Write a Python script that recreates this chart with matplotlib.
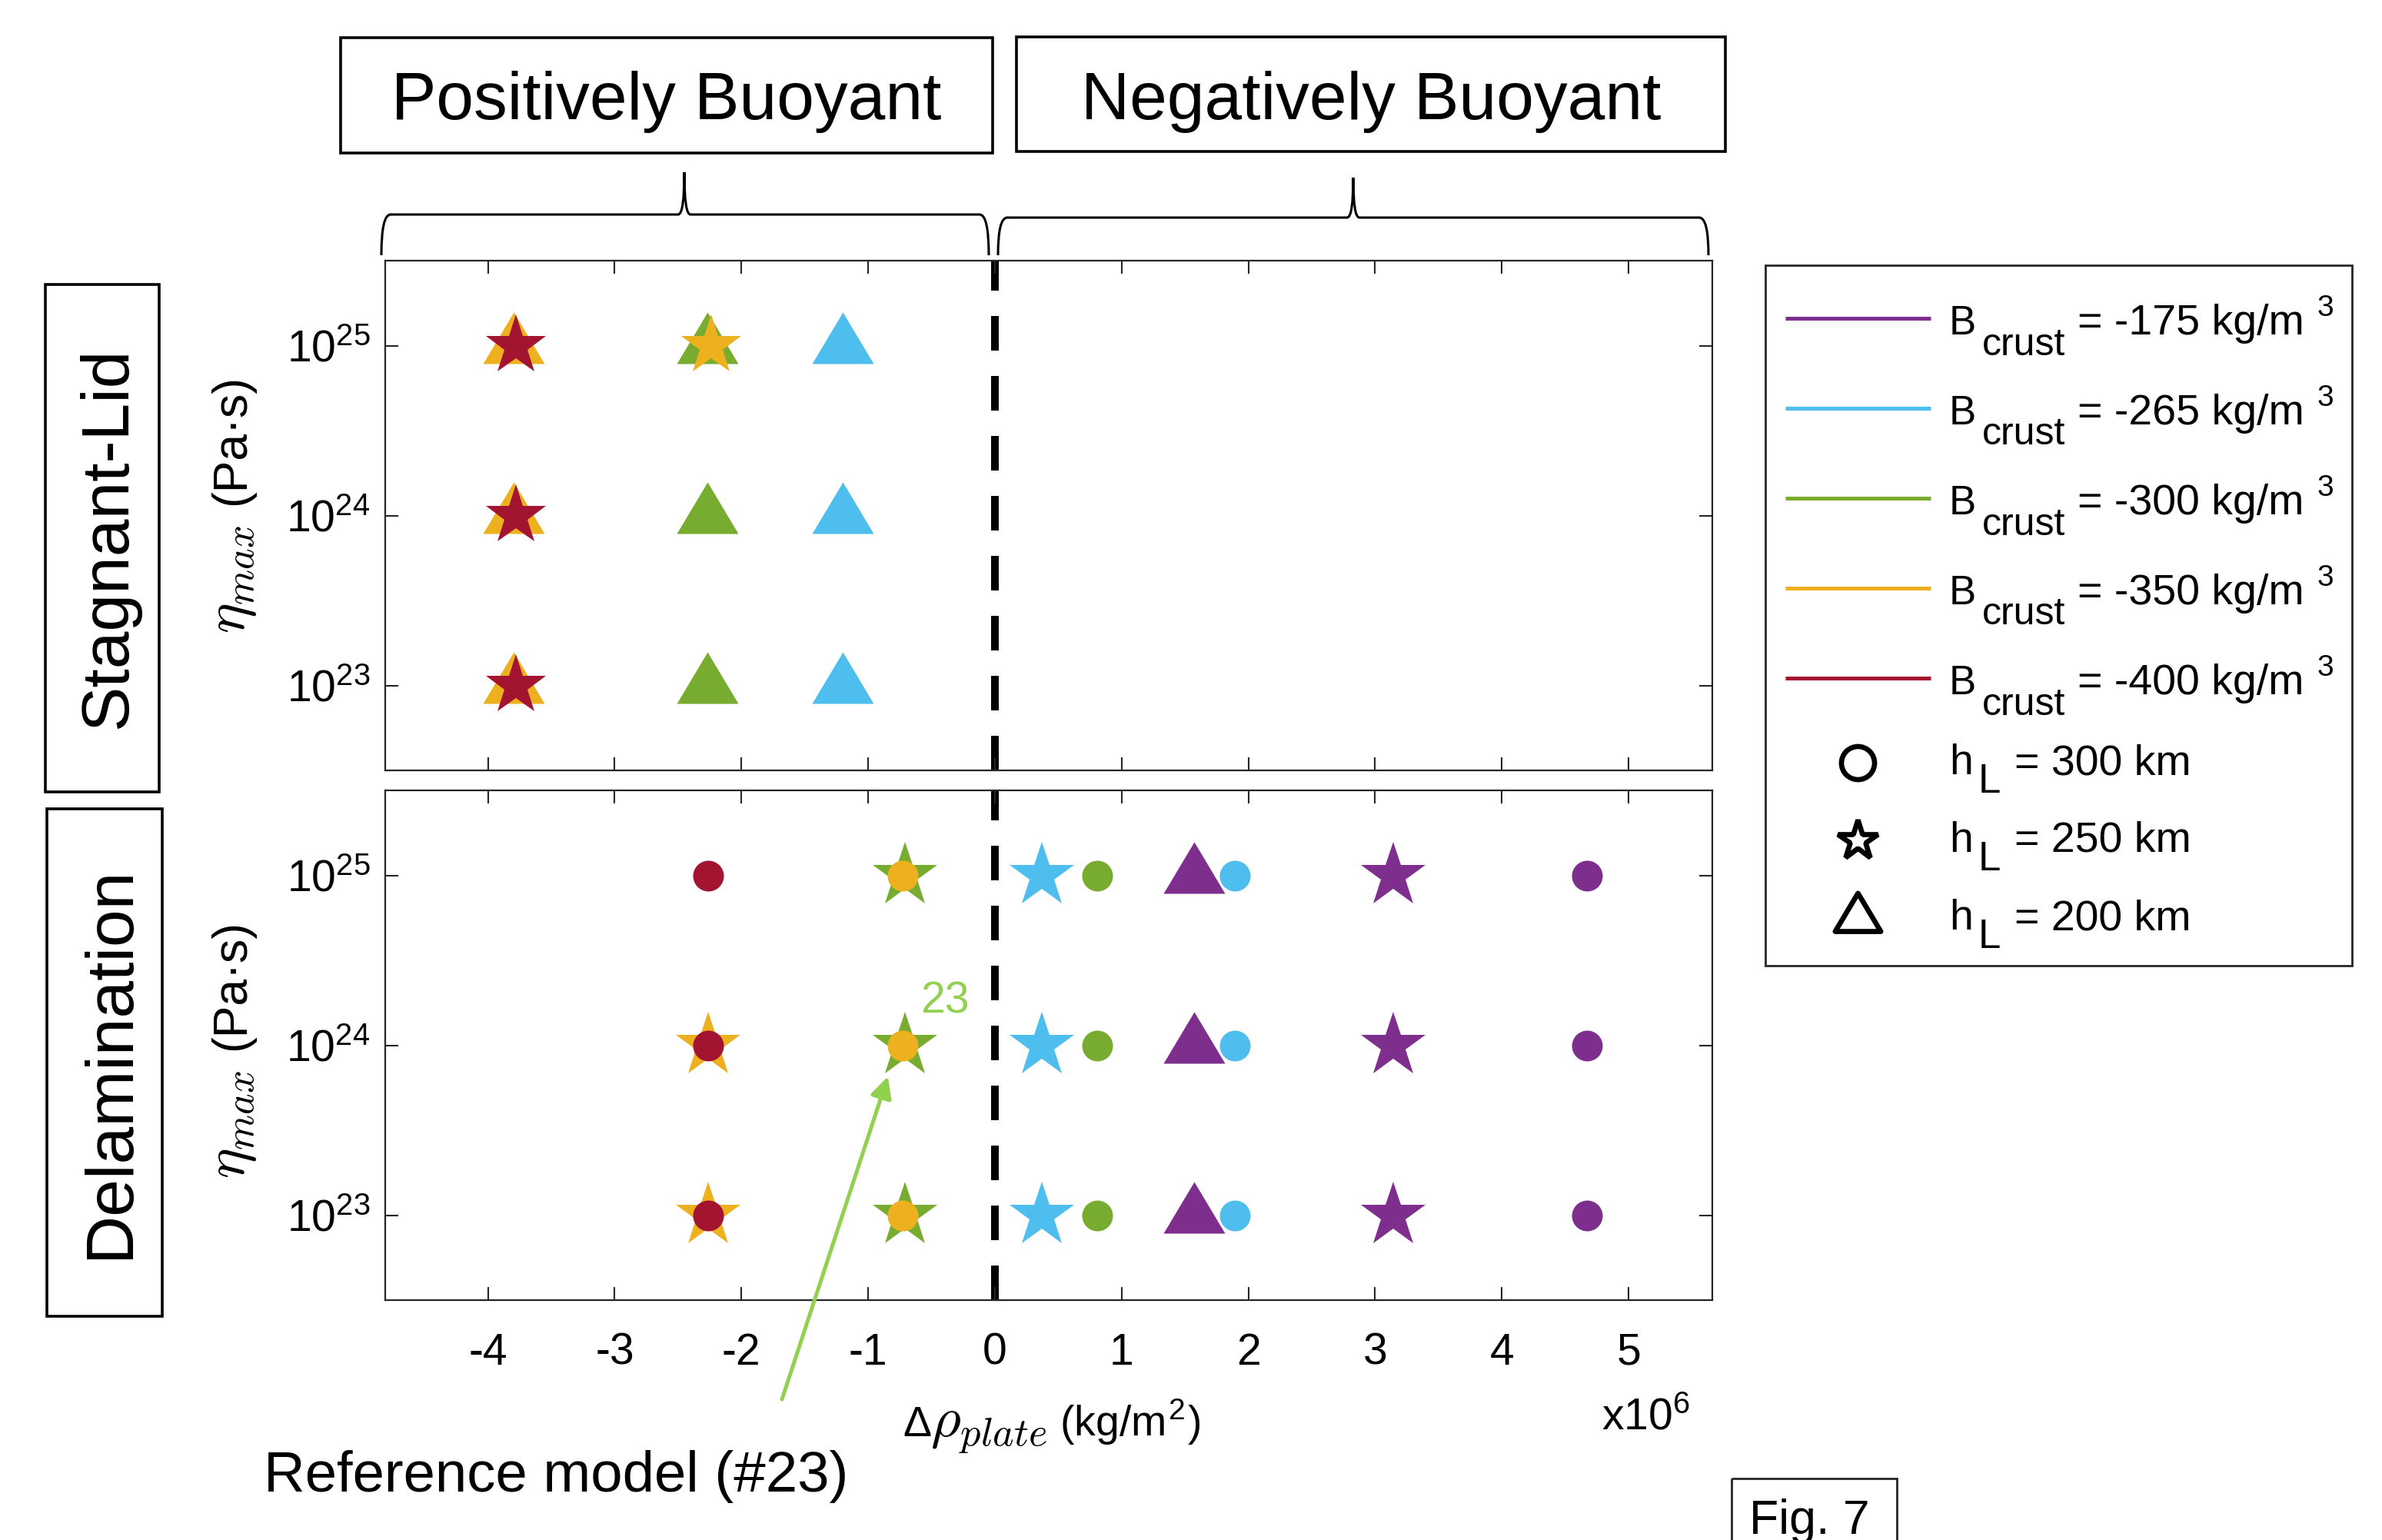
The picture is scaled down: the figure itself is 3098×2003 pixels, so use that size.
import matplotlib
matplotlib.use('Agg')
import matplotlib.pyplot as plt
from matplotlib.path import Path
from matplotlib.patches import Rectangle, PathPatch
from matplotlib.transforms import offset_copy

plt.rcParams['font.family'] = ['Liberation Sans', 'DejaVu Sans']
plt.rcParams['mathtext.fontset'] = 'cm'
plt.rcParams['axes.unicode_minus'] = False

# crustal buoyancy classes (kg/m3) and their colours
b_crust = [-175, -265, -300, -350, -400]
b_colors = ['#7E2F8E', '#4DBEEE', '#77AC30', '#EDB120', '#A2142F']

# lithosphere thickness classes (km)
h_l = [300, 250, 200]

# stagnant-lid runs: B_crust, h_L, plate density anomaly (x1e6 kg/m2), log10(eta_max)
sl_bcrust = [-350, -400, -300, -350, -265]
sl_hl = [200, 250, 200, 250, 200]
sl_drho = [-3.80, -3.78, -2.27, -2.24, -1.20]
sl_logeta = [[23, 24, 25], [23, 24, 25], [23, 24, 25], [25], [23, 24, 25]]

# delamination runs
dl_bcrust = [-350, -400, -300, -350, -265, -300, -175, -265, -175, -175]
dl_hl = [250, 300, 250, 300, 250, 300, 200, 300, 250, 300]
dl_drho = [-2.26, -2.26, -0.71, -0.73, 0.37, 0.81, 1.57, 1.89, 3.14, 4.67]
dl_logeta = [[23, 24], [23, 24, 25], [23, 24, 25], [23, 24, 25], [23, 24, 25],
             [23, 24, 25], [23, 24, 25], [23, 24, 25], [23, 24, 25], [23, 24, 25]]

# reference model #23
ref_drho = -0.71
ref_logeta = 24

xticks = [-4, -3, -2, -1, 0, 1, 2, 3, 4, 5]
xticklabels = ['-4', '-3', '-2', '-1', '0', '1', '2', '3', '4', '5']
yticks = [1e23, 1e24, 1e25]

W, H = 3098, 2003
DPI = 200
fig = plt.figure(figsize=(W / DPI, H / DPI), dpi=DPI)

# triangle centred on its centroid
tri = Path([(0, 1.1), (-1, -0.575), (1, -0.575), (0, 1.1)], closed=True)
shapes = {300: 'o', 250: '*', 200: tri}
color_of = dict(zip(b_crust, b_colors))
spine_c = '#262626'


def setup(ax, bottom_labels):
    ax.set_yscale('log')
    ax.set_xlim(-4.81, 5.66)
    ax.set_ylim(10 ** 22.5, 10 ** 25.5)
    ax.set_xticks(xticks)
    ax.set_xticklabels(xticklabels)
    ax.set_yticks(yticks)
    ax.minorticks_off()
    ax.tick_params(direction='in', length=6, width=0.75, top=True, right=True,
                   labelsize=20.5, color=spine_c, labelbottom=bottom_labels)
    ax.tick_params(axis='x', pad=15)
    ax.tick_params(axis='y', pad=7)
    for s in ax.spines.values():
        s.set_linewidth(0.8)
        s.set_color(spine_c)
    ax.axvline(0, color='k', lw=3.6, ls=(0, (4.5, 3.3)), zorder=1)


def draw_runs(ax, bc, hl, drho, logeta, sizes):
    for b, h, x, etas in zip(bc, hl, drho, logeta):
        ax.plot([x] * len(etas), [10.0 ** e for e in etas], ls='none',
                marker=shapes[h], ms=sizes[h], color=color_of[b], mew=0, zorder=3)


ax1 = fig.add_axes([501 / W, 1 - 1002 / H, 1726 / W, 663 / H])
ax2 = fig.add_axes([501 / W, 1 - 1691 / H, 1726 / W, 663 / H])
setup(ax1, False)
setup(ax2, True)
draw_runs(ax1, sl_bcrust, sl_hl, sl_drho, sl_logeta, {300: 14.4, 250: 29.5, 200: 31.7})
draw_runs(ax2, dl_bcrust, dl_hl, dl_drho, dl_logeta, {300: 14.4, 250: 32.0, 200: 31.7})

# overlay in figure pixels for annotations
ov = fig.add_axes([0, 0, 1, 1], zorder=5)
ov.set_xlim(0, W)
ov.set_ylim(H, 0)
ov.axis('off')

# reference model pointer
green = '#92D050'
ax2.annotate('23', xy=(ref_drho, 10.0 ** ref_logeta), xytext=(20, 41.5),
             textcoords='offset pixels', ha='left', va='baseline',
             fontsize=20.5, color=green)
tip = offset_copy(ax2.transData, fig=fig, x=-22 / DPI, y=-40.5 / DPI, units='inches')
ax2.annotate('', xy=(ref_drho, 10.0 ** ref_logeta), xycoords=tip,
             xytext=(1017, 1820), textcoords=ov.transData, annotation_clip=False,
             arrowprops=dict(arrowstyle='-|>', color=green, lw=1.8,
                             mutation_scale=21, shrinkA=0, shrinkB=0))
ov.text(343, 1940, 'Reference model (#23)', fontsize=26.8, ha='left', va='baseline')

# x axis title
ov.text(1174, 1868, 'Δ', fontsize=20, ha='left', va='baseline')
ov.text(1210, 1868, r'$\rho_{plate}$', fontsize=27, ha='left', va='baseline')
ov.text(1378, 1868, r'(kg/m$^{\mathdefault{2}}$)', fontsize=20, ha='left', va='baseline')
ov.text(2083, 1860, r'x$\mathdefault{10^{6}}$', fontsize=20.5, ha='left', va='baseline')

# y axis titles, read bottom to top
for ystart in (824, 1533):
    ov.text(318, ystart, r'$\eta_{max}$', fontsize=27, rotation=90,
            rotation_mode='anchor', ha='left', va='baseline')
    ov.text(318, ystart - 167, '(Pa·s)', fontsize=22.5, rotation=90,
            rotation_mode='anchor', ha='left', va='baseline')

# regime boxes
box_kw = dict(fill=False, lw=1.3, edgecolor='k')
ov.add_patch(Rectangle((443, 49), 848, 150, **box_kw))
ov.add_patch(Rectangle((1322, 48), 922, 149, **box_kw))
ov.text(867, 155, 'Positively Buoyant', fontsize=31.5, ha='center', va='baseline')
ov.text(1783, 155, 'Negatively Buoyant', fontsize=31.5, ha='center', va='baseline')
ov.add_patch(Rectangle((59, 370), 148, 660, **box_kw))
ov.add_patch(Rectangle((61, 1052), 150, 660, **box_kw))
ov.text(164, 700, 'Stagnant-Lid', fontsize=31.5, rotation=90, rotation_mode='anchor',
        ha='center', va='baseline')
ov.text(167, 1381, 'Delamination', fontsize=31.5, rotation=90, rotation_mode='anchor',
        ha='center', va='baseline')


def brace(x0, x1, xt, yh, yt, yb):
    verts = [(x0, yb), (x0, yh), (x0 + 12, yh), (xt - 8, yh), (xt, yh), (xt, yt),
             (xt, yh), (xt + 8, yh), (x1 - 12, yh), (x1, yh), (x1, yb)]
    codes = [Path.MOVETO, Path.CURVE3, Path.CURVE3, Path.LINETO, Path.CURVE3, Path.CURVE3,
             Path.CURVE3, Path.CURVE3, Path.LINETO, Path.CURVE3, Path.CURVE3]
    ov.add_patch(PathPatch(Path(verts, codes), fill=False, lw=1.1, edgecolor='k'))


brace(496, 1286, 890, 279, 224, 332)
brace(1298, 2222, 1760, 283, 231, 332)

# legend
ov.add_patch(Rectangle((2296, 345), 763, 911, fill=False, lw=1.0, edgecolor=spine_c))
for i, (b, c) in enumerate(zip(b_crust, b_colors)):
    y = 414 + 117 * i
    ov.plot([2322, 2511], [y, y], color=c, lw=1.8, solid_capstyle='butt')
    ov.text(2535, y + 21, 'B', fontsize=19, va='baseline')
    ov.text(2578, y + 47.5, 'crust', fontsize=18, va='baseline')
    ov.text(2702, y + 21, '= %d kg/m' % b, fontsize=20, va='baseline')
    ov.text(3014, y - 3, '3', fontsize=14, va='baseline')

leg_ms = {300: 15.5, 250: 19.5, 200: 23.5}
for i, h in enumerate(h_l):
    yb = 1007 + 101 * i
    ov.plot([2416.5], [yb - 15], marker=shapes[h], ms=leg_ms[h], mfc='white',
            mec='k', mew=2.4, ls='none')
    ov.text(2535, yb, 'h', fontsize=20, va='baseline')
    ov.text(2573, yb + 24, 'L', fontsize=19, va='baseline')
    ov.text(2620, yb, '= %d km' % h, fontsize=20, va='baseline')

# figure tag
ov.add_patch(Rectangle((2252, 1923), 215, 120, fill=False, lw=1.0, edgecolor=spine_c,
                       clip_on=False))
ov.text(2275, 1995, 'Fig. 7', fontsize=22.5, va='baseline')

fig.savefig('out.png', dpi=DPI)
